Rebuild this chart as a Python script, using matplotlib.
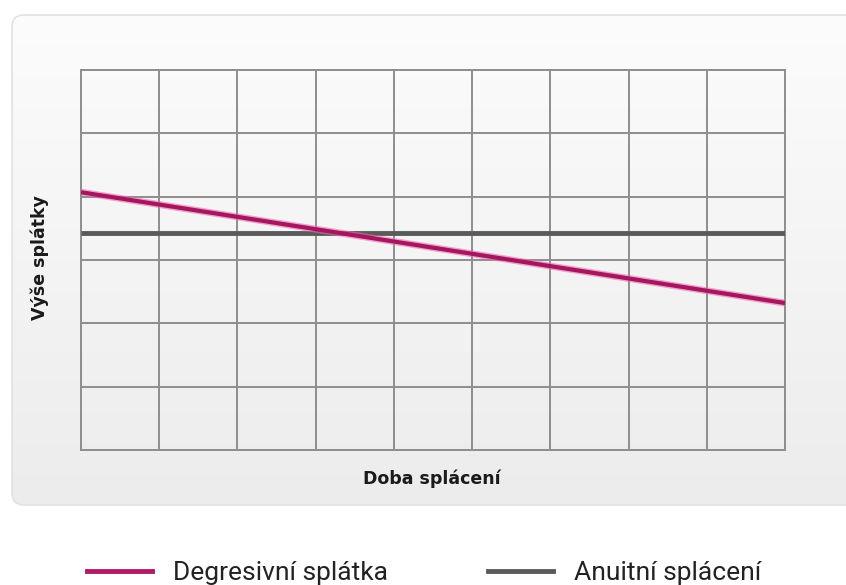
"""
Degresivni vs anuitni splaceni
"""
import numpy as np
import matplotlib.pyplot as plt
from matplotlib.colors import LinearSegmentedColormap
from matplotlib.patches import FancyBboxPatch
from matplotlib.lines import Line2D

# data
doba = [0, 9]
degresivni = [4.07, 2.32]
anuitni = [3.43, 3.43]
x_ticks = list(range(0, 10))
y_ticks = list(range(0, 7))
labels = ['Degresivní splátka', 'Anuitní splácení']

W, H = 846, 585
fig = plt.figure(figsize=(W / 100, H / 100), dpi=100)
fig.patch.set_facecolor('white')

# background panel with soft gradient
bg = fig.add_axes([0, 0, 1, 1])
bg.axis('off')
panel = FancyBboxPatch((12, 15), 860, 490, boxstyle='round,pad=0,rounding_size=12',
                       facecolor='none', edgecolor='#e2e2e2', lw=1.2, zorder=2)
bg.add_patch(panel)
grad = np.linspace(0, 1, 256).reshape(-1, 1)
cmap = LinearSegmentedColormap.from_list('g', ['#fcfcfc', '#ececec'])
im = bg.imshow(grad, extent=[12, 872, 505, 15], cmap=cmap, aspect='auto', zorder=1)
im.set_clip_path(panel)
bg.set_xlim(0, W)
bg.set_ylim(H, 0)

# plot area
ax = fig.add_axes([81 / W, 1 - 450 / H, (785 - 81) / W, (450 - 70) / H])
ax.set_facecolor('none')
ax.set_xlim(0, 9)
ax.set_ylim(0, 6)
ax.set_xticks(x_ticks)
ax.set_yticks(y_ticks)
ax.tick_params(length=0, labelbottom=False, labelleft=False)
ax.grid(True, color='#8e8e8e', lw=1.4)
for s in ax.spines.values():
    s.set_color('#8e8e8e')
    s.set_linewidth(1.4)

ax.plot(doba, anuitni, color='#5a5a5a', lw=3.5, solid_capstyle='butt', zorder=3)
ax.plot(doba, degresivni, color='#f06ab0', lw=5, solid_capstyle='butt', alpha=0.6, zorder=4)
ax.plot(doba, degresivni, color='#a4175f', lw=3, solid_capstyle='butt', zorder=5)

# axis titles
fig.text(432 / W, 1 - 479 / H, 'Doba splácení', fontsize=12.5, fontweight='bold',
         ha='center', va='center', color='#1a1a1a')
fig.text(40 / W, 1 - 258 / H, 'Výše splátky', fontsize=12.5, fontweight='bold',
         ha='center', va='center', rotation=90, color='#1a1a1a')

# legend below the panel
handles = [Line2D([], [], color='#b01a69', lw=3.5),
           Line2D([], [], color='#5a5a5a', lw=3.5)]
fig.legend(handles, labels, loc='center left', bbox_to_anchor=(87 / W, 1 - 573 / H), ncol=2,
           frameon=False, borderpad=0, borderaxespad=0, handlelength=2.46,
           handletextpad=0.8, columnspacing=3.8,
           prop={'family': 'Roboto', 'size': 19}, labelcolor='#222222')

plt.savefig('out.png', dpi=100)
